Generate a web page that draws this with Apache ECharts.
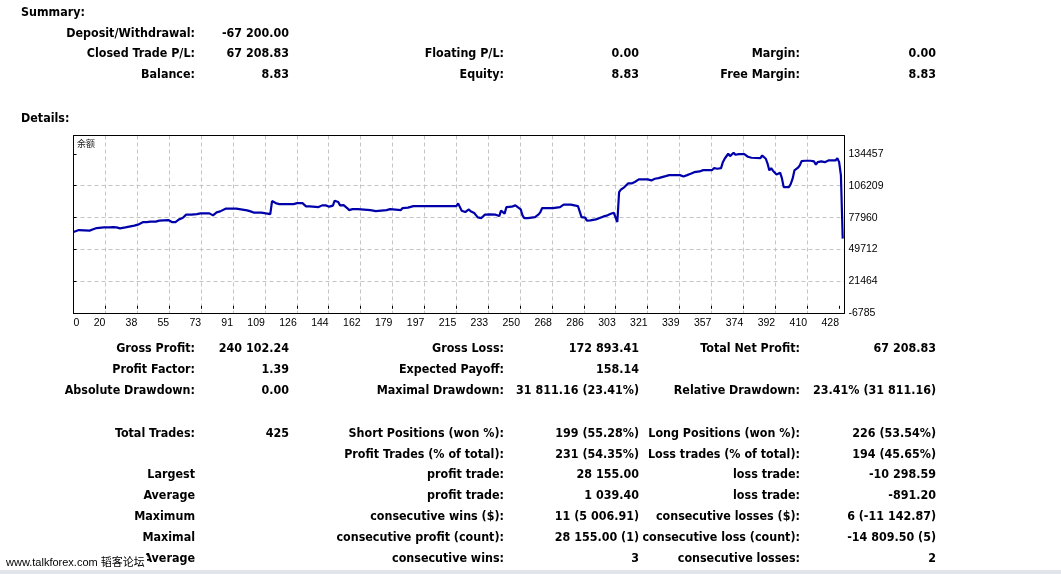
<!DOCTYPE html>
<html>
<head>
<meta charset="utf-8">
<script src="https://cdn.jsdelivr.net/npm/echarts@6/dist/echarts.min.js"></script>
<style>
html,body{margin:0;padding:0;background:#fff;}
#page{position:relative;width:1061px;height:574px;overflow:hidden;background:#fff;}
#chart{position:absolute;left:0;top:0;width:1061px;height:574px;z-index:1;}
.t{position:absolute;z-index:2;font-family:"DejaVu Sans Condensed","DejaVu Sans",sans-serif;font-stretch:condensed;font-weight:bold;font-size:12.4px;line-height:14px;color:#000;white-space:nowrap;}
#wm{position:absolute;z-index:3;left:4px;top:555px;padding:0 2px;background:#fff;font-family:"Liberation Sans","Noto Sans CJK SC",sans-serif;font-size:11px;line-height:15px;color:#000;white-space:nowrap;}
#strip{position:absolute;z-index:4;left:0;top:570px;width:1061px;height:4px;background:#e1e5ea;}
</style>
</head>
<body>
<div id="page">
  <div id="chart"></div>
  <div id="wm">www.talkforex.com 韬客论坛</div>
  <div id="strip"></div>
</div>
<script>
// ---------- chart data ----------
const seriesName = '余额';
const xTickLabels = ['0','20','38','55','73','91','109','126','144','162','179','197','215','233','250','268','286','303','321','339','357','374','392','410','428'];
const yTickLabels = ['-6785','21464','49712','77960','106209','134457'];
const tradeNo = [0,1,3,6,7,9,11,13,17,20,21,22,24,26,27,29,30,34,36,37,39,40,41,43,46,48,49,53,54,55,57,58,59,60,61,62,63,64,66,67,69,71,72,
76,78,79,80,82,83,85,91,92,97,98,99,101,105,106,110,111,113,115,120,121,123,125,128,130,132,133,137,139,141,142,143,145,
146,147,148,149,151,152,153,154,155,156,159,160,166,167,169,170,175,176,177,178,183,184,187,188,190,214,215,216,217,218,
219,221,222,223,224,226,228,229,230,231,233,234,236,237,238,239,240,241,242,243,245,246,247,248,250,251,252,254,255,258,260,261,262,268,269,272,273,274,278,279,282,283,284,286,287,289,290,292,293,296,298,300,302,303,304,305,
306,308,310,312,314,316,321,323,325,327,329,331,333,339,341,343,345,347,350,352,357,358,360,361,362,363,364,366,367,368,369,370,372,373,375,376,377,379,380,384,385,386,387,388,389,390,391,392,393,394,395,396,397,398,400,401,402,403,405,406,407,409,412,414,415,416,418,420,422,426,427,428,429,430];
const balance = [65250,66130,67010,66750,65870,66480,67630,68780,69400,69400,68520,69660,69400,68520,67630,69400,70900,70900,71780,73190,74080,73190,74080,74430,74430,75310,75840,75840,74960,74080,74080,74960,76460,76460,77610,77080,80610,81140,80610,80610,81140,81760,82020,
81760,79990,80610,82640,83520,84140,85910,85910,84400,84400,85020,83520,82370,82370,81140,81140,92610,90850,89970,89970,90850,89970,90850,90850,87940,87940,87320,87320,88820,88820,87670,87670,88550,
92970,93230,91730,88820,89080,90320,86440,84670,84400,85550,85550,84670,84670,83790,83790,84670,84670,86170,85550,84670,84670,86440,86790,87320,88200,88200,90580,88820,84140,82640,
82900,85290,83520,82020,82020,78230,77610,78840,80610,82370,80870,79990,80610,81140,79370,84140,84140,81490,87320,88200,87670,88200,88820,88200,85290,79990,77610,77610,78490,78490,80870,82900,86440,86440,87320,87320,88820,89440,89440,88820,88200,86440,78490,77960,75310,75580,76460,76460,77960,78840,79730,81140,82370,81490,74080,100560,
102680,104970,108240,108240,109740,111770,111770,110890,112390,112920,113800,114680,115570,115570,114420,115570,116800,118210,118830,119980,119980,121750,121220,122360,121750,127040,130040,134460,132340,134100,135340,133570,134100,135340,134100,132340,131810,130930,130570,130570,132960,133570,130040,125630,119720,121750,119450,118830,116180,117690,117690,112920,104970,104090,104970,107970,112390,119720,122100,124130,127930,128280,128280,127660,124750,127040,127660,127040,128540,128540,130570,127040,115300,59420];

// ---------- report text ----------
const headers = [['Summary:', 12], ['Details:', 118]];
const rowY = [32.5, 53, 73.7, 347.7, 368.5, 390, 432.5, 453.5, 474, 495, 516, 537, 558];
const rows = [
  ['Deposit/Withdrawal:', '-67 200.00', '', '', '', ''],
  ['Closed Trade P/L:', '67 208.83', 'Floating P/L:', '0.00', 'Margin:', '0.00'],
  ['Balance:', '8.83', 'Equity:', '8.83', 'Free Margin:', '8.83'],
  ['Gross Profit:', '240 102.24', 'Gross Loss:', '172 893.41', 'Total Net Profit:', '67 208.83'],
  ['Profit Factor:', '1.39', 'Expected Payoff:', '158.14', '', ''],
  ['Absolute Drawdown:', '0.00', 'Maximal Drawdown:', '31 811.16 (23.41%)', 'Relative Drawdown:', '23.41% (31 811.16)'],
  ['Total Trades:', '425', 'Short Positions (won %):', '199 (55.28%)', 'Long Positions (won %):', '226 (53.54%)'],
  ['', '', 'Profit Trades (% of total):', '231 (54.35%)', 'Loss trades (% of total):', '194 (45.65%)'],
  ['Largest', '', 'profit trade:', '28 155.00', 'loss trade:', '-10 298.59'],
  ['Average', '', 'profit trade:', '1 039.40', 'loss trade:', '-891.20'],
  ['Maximum', '', 'consecutive wins ($):', '11 (5 006.91)', 'consecutive losses ($):', '6 (-11 142.87)'],
  ['Maximal', '', 'consecutive profit (count):', '28 155.00 (1)', 'consecutive loss (count):', '-14 809.50 (5)'],
  ['Average', '', 'consecutive wins:', '3', 'consecutive losses:', '2']
];
const colRight = [195, 289, 504, 639, 800, 936];

const page = document.getElementById('page');
function put(text, x, y, alignLeft) {
  if (!text) return;
  const d = document.createElement('div');
  d.className = 't';
  d.textContent = text;
  d.style.top = (y - 7) + 'px';
  if (alignLeft) d.style.left = x + 'px';
  else d.style.right = (1061 - x) + 'px';
  page.appendChild(d);
}
headers.forEach(h => put(h[0], 21, h[1], true));
rows.forEach((r, i) => r.forEach((txt, c) => put(txt, colRight[c], rowY[i], false)));

// ---------- chart ----------
const X_STEP = 17.83;
const xTickVals = xTickLabels.map((_, i) => +(i * X_STEP).toFixed(2));
const yTickVals = yTickLabels.map(Number);
const axisFont = '"Liberation Sans Narrow","Liberation Sans",sans-serif';
const gridLine = {show: true, showMinLine: false, showMaxLine: false, lineStyle: {color: '#c4c4c4', width: 1, type: [4, 3]}};

const chart = echarts.init(document.getElementById('chart'), null, {renderer: 'canvas'});
chart.setOption({
  animation: false,
  backgroundColor: 'transparent',
  grid: {
    left: 73.5, top: 135.5, width: 771, height: 178,
    show: true, borderColor: '#000', borderWidth: 1, backgroundColor: '#fff',
    containLabel: false, outerBoundsMode: 'none'
  },
  graphic: [{
    type: 'text', left: 77, top: 139, z: 10,
    style: {text: seriesName, fill: '#222', font: '9px "Noto Sans CJK SC", sans-serif'}
  }, {
    type: 'rect', z: 100, silent: true,
    shape: {x: 73.5, y: 135.5, width: 771, height: 178},
    style: {fill: 'none', stroke: '#000', lineWidth: 1}
  }],
  xAxis: {
    type: 'value', min: 0, max: 431,
    axisLine: {show: false},
    axisTick: {show: true, length: 3, customValues: xTickVals, lineStyle: {color: '#000'}},
    axisLabel: {
      customValues: xTickVals, interval: 0, align: 'right', alignMinLabel: 'left',
      margin: 4, color: '#000', fontSize: 10.5, fontFamily: axisFont,
      formatter: v => { const i = Math.round(v / X_STEP); return xTickLabels[i] !== undefined ? xTickLabels[i] : ''; }
    },
    splitLine: gridLine
  },
  yAxis: {
    type: 'value', position: 'right', min: -6785, max: 150600,
    axisLine: {show: false},
    axisTick: {show: true, length: 3, customValues: yTickVals, lineStyle: {color: '#000'}},
    axisLabel: {
      customValues: yTickVals, interval: 0, align: 'left', margin: 4,
      color: '#000', fontSize: 10.5, fontFamily: axisFont, padding: [0, 0, 3, 0],
      formatter: v => String(Math.round(v))
    },
    splitLine: gridLine
  },
  series: [{
    name: seriesName, type: 'line',
    data: tradeNo.map((x, i) => [x, balance[i]]),
    symbol: 'none', showSymbol: false, smooth: false,
    lineStyle: {color: '#0000aa', width: 2.2},
    itemStyle: {color: '#0000aa'}
  }]
});
</script>
</body>
</html>
